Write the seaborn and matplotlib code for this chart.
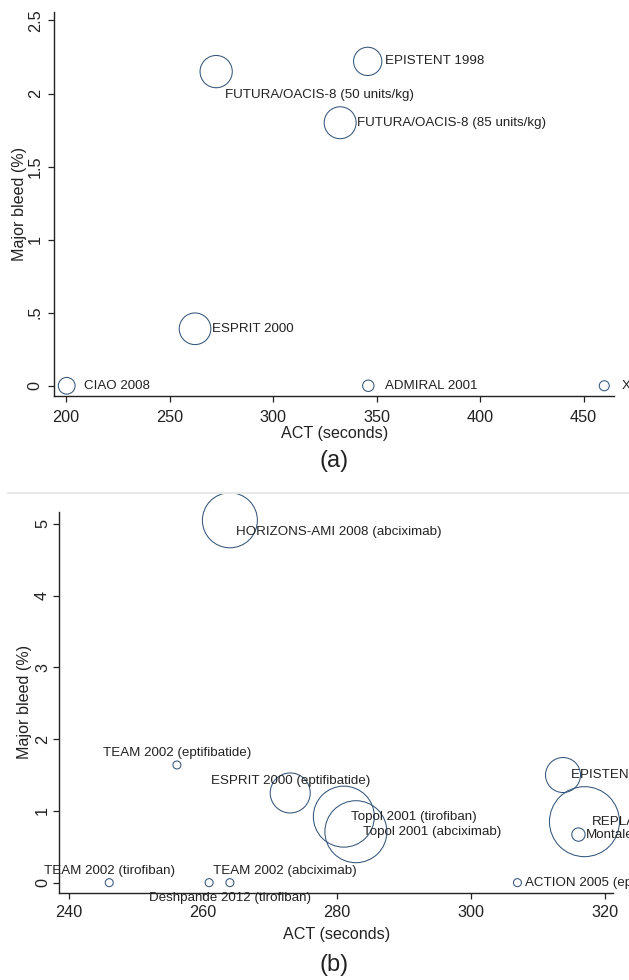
import matplotlib
matplotlib.use("Agg")
import matplotlib.pyplot as plt
from matplotlib.lines import Line2D
import seaborn as sns
import pandas as pd

# ---------------- data: panel (a) ----------------
studies_a = ["CIAO 2008", "ESPRIT 2000", "FUTURA/OACIS-8 (50 units/kg)", "EPISTENT 1998",
             "FUTURA/OACIS-8 (85 units/kg)", "ADMIRAL 2001", "X"]
act_a = [200.3, 262.3, 272.5, 345.7, 332.4, 346.0, 460.0]
bleed_a = [0.0, 0.39, 2.15, 2.22, 1.80, 0.0, 0.0]
weight_a = [280, 1000, 1040, 800, 1020, 130, 100]
xticks_a = [200, 250, 300, 350, 400, 450]
yticks_a = [0, 0.5, 1, 1.5, 2, 2.5]
yticklabels_a = ["0", ".5", "1", "1.5", "2", "2.5"]

# ---------------- data: panel (b) ----------------
studies_b = ["HORIZONS-AMI 2008 (abciximab)", "TEAM 2002 (eptifibatide)", "ESPRIT 2000 (eptifibatide)",
             "Topol 2001 (tirofiban)", "Topol 2001 (abciximab)", "EPISTENT 1998 (abciximab)",
             "REPLACE", "Montalescot", "ACTION 2005 (eptifibatide)", "TEAM 2002 (tirofiban)",
             "TEAM 2002 (abciximab)", "Deshpande 2012 (tirofiban)"]
act_b = [264.0, 256.1, 273.0, 281.0, 282.8, 313.7, 316.9, 316.0, 306.9, 246.0, 260.9, 264.0]
bleed_b = [5.05, 1.64, 1.25, 0.92, 0.71, 1.50, 0.85, 0.67, 0.0, 0.0, 0.0, 0.0]
weight_b = [3025, 64, 1600, 3721, 3844, 1225, 4900, 177, 64, 64, 64, 64]
xticks_b = [240, 260, 280, 300, 320]
yticks_b = [0, 1, 2, 3, 4, 5]

# label placement (Stata-like clock positions)
labpos_a = {"FUTURA/OACIS-8 (50 units/kg)": "br"}
labpos_b = {"HORIZONS-AMI 2008 (abciximab)": "br", "TEAM 2002 (eptifibatide)": "u",
            "ESPRIT 2000 (eptifibatide)": "u", "TEAM 2002 (tirofiban)": "u",
            "TEAM 2002 (abciximab)": "ur", "Deshpande 2012 (tirofiban)": "d"}

sns.set_theme(style="ticks")
plt.rcParams["font.family"] = ["Liberation Sans", "DejaVu Sans"]

PX = 0.72  # points per pixel at dpi 100
EDGE = "#34557a"
TXT = "#222222"
AX = "#222222"

fig = plt.figure(figsize=(6.29, 9.80), dpi=100)
W, H = 629.0, 980.0


def panel(rect, names, xs, ys, ws, labpos, offs, xlim, ylim, xt, yt, ytl, xpad, ypad, xlab_y, ylab_x):
    ax = fig.add_axes(rect)
    df = pd.DataFrame({"act": xs, "bleed": ys, "w": ws, "name": names})
    wmax = 5000.0
    sns.scatterplot(data=df, x="act", y="bleed", size="w", sizes=(0, 0.5184 * wmax),
                    size_norm=(0, wmax), facecolors="none", edgecolor=EDGE, linewidth=0.75,
                    legend=False, ax=ax, clip_on=False, zorder=3)
    for c in ax.collections:
        c.set_facecolor("none")
        c.set_clip_on(False)
    for n, x, y in zip(names, xs, ys):
        p = labpos.get(n, "r")
        dx, dy, ha = offs[p]
        ax.annotate(n, (x, y), xytext=(dx * PX, dy * PX), textcoords="offset points",
                    ha=ha, va="center", fontsize=9.6, color=TXT, annotation_clip=False, zorder=4)
    ax.set_xlim(*xlim)
    ax.set_ylim(*ylim)
    ax.set_xticks(xt)
    ax.set_xticklabels([str(v) for v in xt])
    ax.set_yticks(yt)
    ax.set_yticklabels(ytl, rotation=90, va="center")
    sns.despine(ax=ax)
    for s in ["left", "bottom"]:
        ax.spines[s].set_color(AX)
        ax.spines[s].set_linewidth(1.0)
    ax.tick_params(axis="x", direction="out", length=4.3, width=0.9, color=AX,
                   labelsize=11.7, labelcolor=TXT, pad=xpad)
    ax.tick_params(axis="y", direction="out", length=4.3, width=0.9, color=AX,
                   labelsize=11.7, labelcolor=TXT, pad=ypad)
    ax.set_xlabel("ACT (seconds)", fontsize=11.6, color=TXT)
    ax.set_ylabel("Major bleed (%)", fontsize=11.6, color=TXT)
    ax.xaxis.set_label_coords(0.5, xlab_y)
    ax.xaxis.label.set_va("center")
    ax.yaxis.set_label_coords(ylab_x, 0.5)
    ax.yaxis.label.set_va("center")
    ax.set_facecolor("none")
    return ax


offs_a = {"r": (17, 0, "left"), "br": (9, -23, "left")}
offs_b = {"r": (7.5, 0, "left"), "br": (6, -12, "left"), "u": (0, 11.7, "center"),
          "ur": (4, 11.7, "left"), "d": (0, -15, "center")}

# panel (a): axes from x=54.3..614 px, y=11.7..395.7 px
panel([54.3 / W, 1 - 395.7 / H, (614 - 54.3) / W, 384 / H],
      studies_a, act_a, bleed_a, weight_a, labpos_a, offs_a,
      (194.3, 464.7), (-0.068, 2.56), xticks_a, yticks_a, yticklabels_a,
      6.0, 4.0, -0.0997, -0.0625)

# panel (b): axes from x=59.3..613.3 px, y=511.7..892.7 px
panel([59.3 / W, 1 - 892.7 / H, (613.3 - 59.3) / W, 381 / H],
      studies_b, act_b, bleed_b, weight_b, labpos_b, offs_b,
      (238.55, 321.2), (-0.14, 5.17), xticks_b, yticks_b, [str(v) for v in yticks_b],
      4.5, 2.4, -0.1084, -0.0637)

fig.text(334.5 / W, 1 - 461 / H, "(a)", ha="center", va="center", fontsize=17, color=TXT)
fig.text(334.5 / W, 1 - 965 / H, "(b)", ha="center", va="center", fontsize=17, color=TXT)
fig.add_artist(Line2D([8 / W, 1.0], [1 - 493.3 / H, 1 - 493.3 / H], color="#e8e8e8", lw=1.5))

fig.savefig("out.png", dpi=100, facecolor="white")
